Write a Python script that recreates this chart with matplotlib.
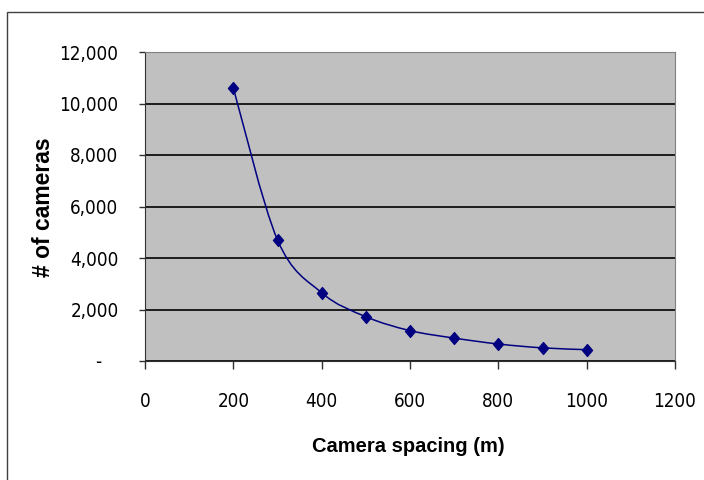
import matplotlib.pyplot as plt
import numpy as np
from matplotlib.path import Path
from matplotlib.patches import PathPatch, Rectangle
from matplotlib.ticker import FuncFormatter
from matplotlib import font_manager

# data
spacing = [200, 300, 400, 500, 600, 700, 800, 900, 1000]
cameras = [10600, 4700, 2650, 1720, 1180, 890, 660, 510, 440]

x_ticks = [0, 200, 400, 600, 800, 1000, 1200]
y_ticks = [0, 2000, 4000, 6000, 8000, 10000, 12000]

NAVY = "#000080"

# ------------------------------------------------------------
# fonts: Excel chart used a narrow Arial for the tick labels
# ------------------------------------------------------------
plt.rcParams["font.family"] = ["Liberation Sans", "DejaVu Sans"]
names = {f.name for f in font_manager.fontManager.ttflist}
dejavu_cond = any(f.name == "DejaVu Sans" and "ondensed" in str(f.stretch)
                  for f in font_manager.fontManager.ttflist)
if "Liberation Sans Narrow" in names:
    TICK_FONT = dict(family=["Liberation Sans Narrow", "DejaVu Sans"], size=15)
elif dejavu_cond:
    TICK_FONT = dict(family=["DejaVu Sans"], stretch="condensed", size=13.5)
else:
    TICK_FONT = dict(family=["Liberation Sans", "DejaVu Sans"], size=13.5)


def smooth_path(xs, ys):
    # Excel-style smoothed line: cubic Bezier segments (Catmull-Rom control points)
    pts = np.column_stack([xs, ys]).astype(float)
    verts = [pts[0]]
    codes = [Path.MOVETO]
    n = len(pts)
    for i in range(n - 1):
        p0 = pts[max(i - 1, 0)]
        p1 = pts[i]
        p2 = pts[i + 1]
        p3 = pts[min(i + 2, n - 1)]
        verts += [p1 + (p2 - p0) / 6.0, p2 - (p3 - p1) / 6.0, p2]
        codes += [Path.CURVE4] * 3
    return Path(verts, codes)


diamond = Path([(0, 1), (0.85, 0), (0, -1), (-0.85, 0), (0, 1)],
               [Path.MOVETO, Path.LINETO, Path.LINETO, Path.LINETO, Path.CLOSEPOLY])

fig = plt.figure(figsize=(7.04, 4.8), dpi=100)
fig.add_artist(Rectangle((7 / 704, -0.1), 1.2, 1 - 12 / 480 + 0.1,
                         transform=fig.transFigure, fill=False,
                         edgecolor="#404040", linewidth=1))

ax = fig.add_axes([145 / 704, 1 - 361 / 480, 530 / 704, 309 / 480])
ax.set_facecolor("#C0C0C0")

ax.add_patch(PathPatch(smooth_path(spacing, cameras), facecolor="none",
                       edgecolor=NAVY, linewidth=1.1, zorder=3))
ax.plot(spacing, cameras, linestyle="none", marker=diamond, markersize=8.5,
        color=NAVY, zorder=4)

ax.set_xlim(0, 1200)
ax.set_ylim(0, 12000)
ax.set_xticks(x_ticks)
ax.set_yticks(y_ticks)
ax.yaxis.set_major_formatter(
    FuncFormatter(lambda v, p: "-   " if v == 0 else f"{int(v):,}"))

ax.grid(axis="y", color="black", linewidth=1.2)
ax.set_axisbelow(True)

for s in ["top", "right"]:
    ax.spines[s].set_color("#808080")
for s in ["left", "bottom"]:
    ax.spines[s].set_color("#303030")

ax.tick_params(axis="both", direction="out", width=1, color="#303030")
ax.tick_params(axis="y", length=4, pad=15)
ax.tick_params(axis="x", length=6, pad=16)
for lab in ax.get_xticklabels() + ax.get_yticklabels():
    lab.set_fontproperties(font_manager.FontProperties(**TICK_FONT))

# axis titles
fig.text(43 / 704, 1 - 207 / 480, "# of cameras", rotation=90,
         ha="center", va="center", fontsize=16.5, fontweight="bold")
fig.text(408 / 704, 1 - 446 / 480, "Camera spacing (m)",
         ha="center", va="center", fontsize=14.5, fontweight="bold")

fig.savefig("out.png", dpi=100)
